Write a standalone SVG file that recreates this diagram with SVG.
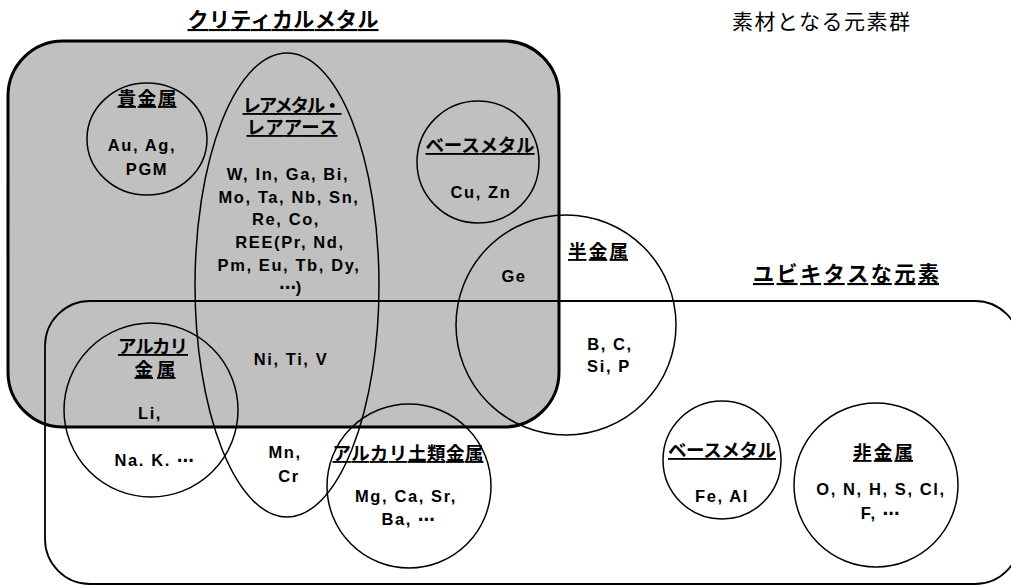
<svg xmlns="http://www.w3.org/2000/svg" width="1011" height="588" viewBox="0 0 1011 588">
<style>
.crit{fill:#c0c0c0;stroke:#000;stroke-width:3}
.ubi{fill:none;stroke:#000;stroke-width:1.8}
.sh{fill:none;stroke:#000;stroke-width:1.5}
.lbl{font-family:"Noto Sans CJK JP","Noto Sans CJK SC",sans-serif;font-weight:bold;font-size:18.5px;text-anchor:middle;text-decoration:underline;fill:#000}
.ttl{font-family:"Noto Sans CJK JP","Noto Sans CJK SC",sans-serif;font-weight:bold;font-size:21px;text-anchor:middle;text-decoration:underline;fill:#000}
.cap{font-family:"Noto Sans CJK JP","Noto Sans CJK SC",sans-serif;font-size:21px;text-anchor:middle;fill:#000}
.el{font-family:"Liberation Sans","Noto Sans CJK JP",sans-serif;font-weight:bold;font-size:16.5px;letter-spacing:1.6px;text-anchor:middle;fill:#000}
.dt{font-family:"DejaVu Sans","Noto Sans CJK JP",sans-serif;font-weight:bold;letter-spacing:0}
</style>
<g id="critical-metal">
<rect class="crit" x="8" y="41" width="551" height="386" rx="55" ry="55"/>
<text class="ttl" x="283" y="27" textLength="191">クリティカルメタル</text>
</g>
<g id="ubiquitous">
<rect class="ubi" x="45" y="301" width="975" height="283" rx="45" ry="45"/>
<text class="ttl" x="846" y="281" textLength="186">ユビキタスな元素</text>
</g>
<g id="caption">
<text class="cap" x="821" y="29" textLength="178">素材となる元素群</text>
</g>
<g id="precious-metal">
<ellipse class="sh" cx="147" cy="139" rx="60" ry="56"/>
<text class="lbl" x="147" y="105" textLength="59">貴金属</text>
<text class="el" x="142" y="151">Au, Ag,</text>
<text class="el" x="147" y="175">PGM</text>
</g>
<g id="rare-metal">
<ellipse class="sh" cx="287" cy="285" rx="92" ry="232"/>
<text class="lbl" x="292" y="112" textLength="99">レアメタル・</text>
<text class="lbl" x="292" y="134" textLength="91">レアアース</text>
<text class="el" x="288" y="180">W, In, Ga, Bi,</text>
<text class="el" x="289" y="203">Mo, Ta, Nb, Sn,</text>
<text class="el" x="286" y="225">Re, Co,</text>
<text class="el" x="290" y="248">REE(Pr, Nd,</text>
<text class="el" x="289" y="271">Pm, Eu, Tb, Dy,</text>
<text class="el" x="291" y="293"><tspan class="dt">⋯</tspan>)</text>
<text class="el" x="291" y="365">Ni, Ti, V</text>
<text class="el" x="285" y="458">Mn,</text>
<text class="el" x="289" y="482">Cr</text>
</g>
<g id="base-metal-critical">
<circle class="sh" cx="478" cy="162" r="61"/>
<text class="lbl" x="480" y="152" textLength="109">ベースメタル</text>
<text class="el" x="481" y="198">Cu, Zn</text>
</g>
<g id="semimetal">
<circle class="sh" cx="566" cy="325" r="110"/>
<text class="lbl" x="598" y="258" textLength="60">半金属</text>
<text class="el" x="514" y="282">Ge</text>
<text class="el" x="610" y="350">B, C,</text>
<text class="el" x="609" y="372">Si, P</text>
</g>
<g id="alkali-metal">
<circle class="sh" cx="151" cy="410" r="87"/>
<text class="lbl" x="153" y="353" textLength="70">アルカリ</text>
<text class="lbl" x="155" y="376" textLength="41">金属</text>
<text class="el" x="150" y="419">Li,</text>
<text class="el" x="154" y="466">Na. K. <tspan class="dt">⋯</tspan></text>
</g>
<g id="alkaline-earth-metal">
<circle class="sh" cx="409" cy="486" r="82"/>
<text class="lbl" x="408" y="460" textLength="151">アルカリ土類金属</text>
<text class="el" x="406" y="502">Mg, Ca, Sr,</text>
<text class="el" x="408" y="525">Ba, <tspan class="dt">⋯</tspan></text>
</g>
<g id="base-metal-ubiquitous">
<circle class="sh" cx="722" cy="460" r="59"/>
<text class="lbl" x="722" y="457" textLength="108">ベースメタル</text>
<text class="el" x="722" y="502">Fe, Al</text>
</g>
<g id="nonmetal">
<circle class="sh" cx="876" cy="485" r="82"/>
<text class="lbl" x="883" y="459" textLength="60">非金属</text>
<text class="el" x="881" y="495">O, N, H, S, Cl,</text>
<text class="el" x="880" y="519">F, <tspan class="dt">⋯</tspan></text>
</g>
<g id="connectors"/>
</svg>
